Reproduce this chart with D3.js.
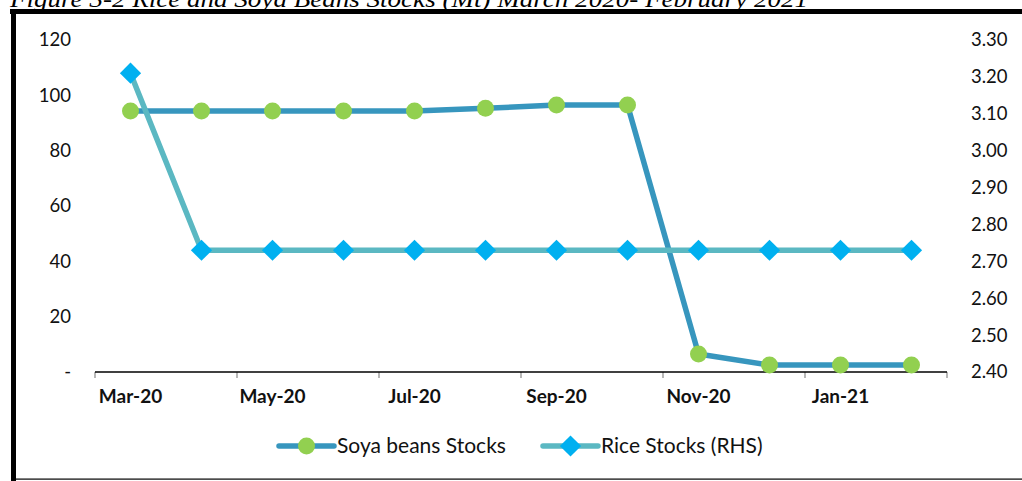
<!DOCTYPE html>
<html>
<head>
<meta charset="utf-8">
<script src="https://cdn.jsdelivr.net/npm/d3@7"></script>
<style>
  body { margin: 0; background: #fff; }
  svg { display: block; }
</style>
</head>
<body>
<div id="chart"></div>
<script>
const months = ['Mar-20', 'Apr-20', 'May-20', 'Jun-20', 'Jul-20', 'Aug-20',
                'Sep-20', 'Oct-20', 'Nov-20', 'Dec-20', 'Jan-21', 'Feb-21'];
const soyaStocks = [94.3, 94.3, 94.3, 94.3, 94.3, 95.3, 96.5, 96.5, 6.5, 2.5, 2.5, 2.5];
const riceStocks = [3.21, 2.73, 2.73, 2.73, 2.73, 2.73, 2.73, 2.73, 2.73, 2.73, 2.73, 2.73];
const leftTicks = [0, 20, 40, 60, 80, 100, 120];
const rightTicks = [2.4, 2.5, 2.6, 2.7, 2.8, 2.9, 3.0, 3.1, 3.2, 3.3];
const xLabels = ['Mar-20', 'May-20', 'Jul-20', 'Sep-20', 'Nov-20', 'Jan-21'];

const W = 1022, H = 481;
const font = 'Lato, "DejaVu Sans", sans-serif';

const svg = d3.select('#chart')
  .append('svg')
    .attr('width', W)
    .attr('height', H);

// caption, cut off at the top like the original
svg.append('text')
    .attr('x', 10)
    .attr('y', 7)
    .attr('textLength', 798)
    .attr('lengthAdjust', 'spacingAndGlyphs')
    .style('font-family', '"Liberation Serif", serif')
    .style('font-style', 'italic')
    .style('font-size', '24px')
    .text('Figure 3-2 Rice and Soya Beans Stocks (Mt) March 2020- February 2021');

// frame
svg.append('rect').attr('x', 10).attr('y', 9).attr('width', W - 10).attr('height', 5).attr('fill', '#000');
svg.append('rect').attr('x', 11).attr('y', 9).attr('width', 5).attr('height', H - 9).attr('fill', '#000');
svg.append('rect').attr('x', 11).attr('y', 478.5).attr('width', W - 11).attr('height', 1.2).attr('fill', '#000');

// scales
const x = d3.scaleBand().domain(months).range([95, 947]).padding(0);
const cx = (d, i) => x(months[i]) + x.bandwidth() / 2;
const yL = d3.scaleLinear().domain([0, 120]).range([372, 40]);
const yR = d3.scaleLinear().domain([2.4, 3.3]).range([372, 40]);

// left axis
const gL = svg.append('g')
    .attr('transform', 'translate(71,0)')
    .call(d3.axisLeft(yL).tickValues(leftTicks).tickSize(0).tickPadding(0)
      .tickFormat(d => d === 0 ? '-' : d));
gL.select('.domain').remove();

// right axis
const gR = svg.append('g')
    .attr('transform', 'translate(971,0)')
    .call(d3.axisRight(yR).tickValues(rightTicks).tickSize(0).tickPadding(0)
      .tickFormat(d3.format('.2f')));
gR.select('.domain').remove();

[gL, gR].forEach(g => g.selectAll('text')
    .style('font-family', font)
    .style('font-size', '18.5px')
    .attr('fill', '#111'));

// x axis: labels under every other month, ticks on band edges
const gX = svg.append('g')
    .attr('transform', 'translate(0,372)')
    .call(d3.axisBottom(x).tickValues(xLabels).tickSize(0).tickPadding(25));
gX.select('.domain').remove();
gX.selectAll('text')
    .attr('dy', '0.32em')
    .style('font-family', font)
    .style('font-weight', 'bold')
    .style('font-size', '19px')
    .attr('fill', '#111');

const tickPos = xLabels.map(m => x(m)).concat([x.range()[1]]);
svg.append('g').selectAll('line')
    .data(tickPos)
    .enter()
    .append('line')
      .attr('x1', d => d).attr('x2', d => d)
      .attr('y1', 372).attr('y2', 378)
      .attr('stroke', '#888')
      .attr('stroke-width', 1.2);
svg.append('line')
    .attr('x1', 95).attr('x2', 947)
    .attr('y1', 372).attr('y2', 372)
    .attr('stroke', '#000')
    .attr('stroke-width', 1.3);

// series
const soyaColor = '#3796BE', soyaMarker = '#92D050';
const riceColor = '#5BB8C2', riceMarker = '#00B0F0';
const diamond = d3.symbol().type(d3.symbolSquare).size(225);

svg.append('path')
    .datum(soyaStocks)
    .attr('fill', 'none')
    .attr('stroke', soyaColor)
    .attr('stroke-width', 5.5)
    .attr('stroke-linejoin', 'round')
    .attr('d', d3.line().x(cx).y(d => yL(d)));

svg.append('path')
    .datum(riceStocks)
    .attr('fill', 'none')
    .attr('stroke', riceColor)
    .attr('stroke-width', 5.5)
    .attr('stroke-linejoin', 'round')
    .attr('d', d3.line().x(cx).y(d => yR(d)));

svg.append('g').selectAll('circle')
    .data(soyaStocks)
    .enter()
    .append('circle')
      .attr('cx', cx)
      .attr('cy', d => yL(d))
      .attr('r', 8.5)
      .attr('fill', soyaMarker);

svg.append('g').selectAll('path')
    .data(riceStocks)
    .enter()
    .append('path')
      .attr('d', diamond)
      .attr('transform', (d, i) => 'translate(' + cx(d, i) + ',' + yR(d) + ') rotate(45)')
      .attr('fill', riceMarker);

// legend
const legend = [
  { name: 'Soya beans Stocks', x: 279, color: soyaColor, marker: 'circle', mcolor: soyaMarker },
  { name: 'Rice Stocks (RHS)', x: 543, color: riceColor, marker: 'diamond', mcolor: riceMarker }
];
const lg = svg.append('g').selectAll('g')
    .data(legend)
    .enter()
    .append('g')
      .attr('transform', d => 'translate(' + d.x + ',446)');
lg.append('line')
    .attr('x1', 0).attr('x2', 55)
    .attr('stroke', d => d.color)
    .attr('stroke-width', 5.5)
    .attr('stroke-linecap', 'round');
lg.filter(d => d.marker === 'circle').append('circle')
    .attr('cx', 27.5).attr('r', 8.5)
    .attr('fill', d => d.mcolor);
lg.filter(d => d.marker === 'diamond').append('path')
    .attr('d', diamond)
    .attr('transform', 'translate(27.5,0) rotate(45)')
    .attr('fill', d => d.mcolor);
lg.append('text')
    .attr('x', 58)
    .attr('dy', '0.35em')
    .style('font-family', font)
    .style('font-size', '21px')
    .attr('fill', '#111')
    .text(d => d.name);
</script>
</body>
</html>
